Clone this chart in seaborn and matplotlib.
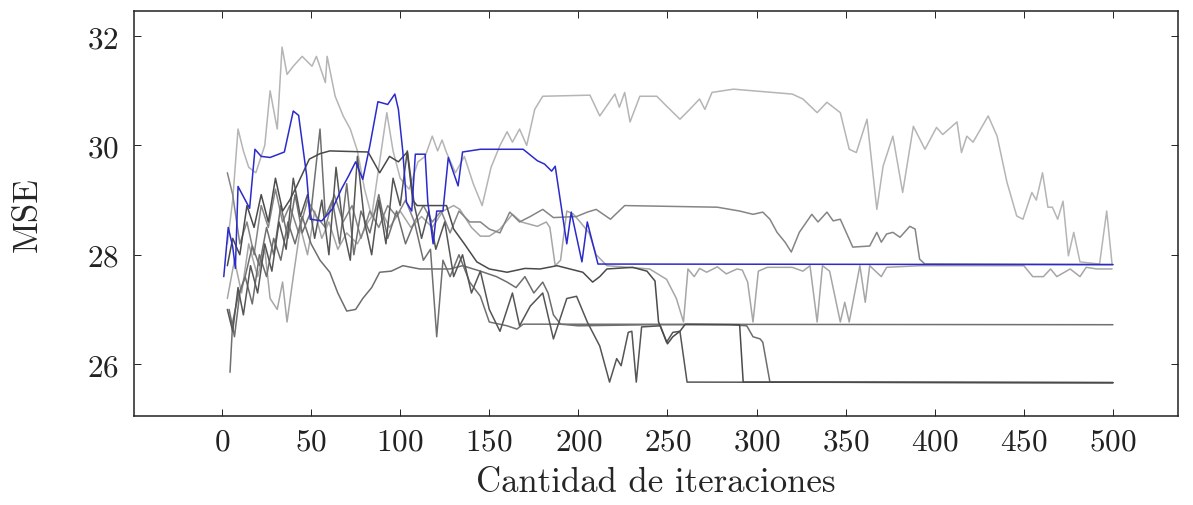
import numpy as np
import matplotlib
matplotlib.use("Agg")
import matplotlib.pyplot as plt
import seaborn as sns

# datos (iteracion, MSE)
azul_x = [1, 3.5, 6, 7.5, 9, 15.5, 18.5, 22, 27, 35, 40, 43, 47.5, 49.5, 56, 62, 67, 71, 75, 79, 83,
          87.5, 93, 97, 99, 101.5, 103.5, 106.5, 108.5, 114, 115.5, 118.5, 120.5, 124, 127, 132.5, 135,
          145, 169, 177, 181, 185, 187, 193.5, 196, 202, 205, 211, 500]
azul_y = [27.6, 28.5, 28.15, 27.75, 29.25, 28.85, 29.93, 29.8, 29.78, 29.88, 30.63, 30.55, 29.45, 28.65,
          28.62, 28.84, 29.2, 29.44, 29.7, 29.38, 30.0, 30.8, 30.75, 30.94, 30.66, 29.88, 28.96, 28.8,
          29.84, 29.84, 28.96, 28.2, 28.8, 28.8, 29.78, 29.26, 29.88, 29.93, 29.93, 29.72, 29.66, 29.53,
          29.62, 28.2, 28.78, 27.87, 28.6, 27.83, 27.82]

b_x = [3, 6, 9, 12, 15, 19, 24, 27, 31, 33.7, 36.5, 40, 45, 50.5, 53, 58, 59, 63.5, 68, 72, 76, 80, 84,
       88, 92.5, 96, 100, 105, 110, 114, 118, 121, 123.5, 126, 131, 136, 141, 146, 151, 156, 160, 163,
       167, 171, 175.5, 180, 206.5, 212, 220.5, 223, 226, 229, 234.5, 244, 249.5, 257, 262.5, 268, 271,
       275, 287, 320, 326, 334, 339.5, 347, 352, 356, 362, 367.5, 371, 376.5, 382, 388, 394.5, 401,
       404.5, 412.5, 415, 418, 421.5, 430, 435, 440.5, 446, 449.5, 454.5, 457, 460.5, 463.5, 466, 469,
       472, 475, 478, 481.5, 492.5, 496.5, 499.5]
b_y = [28.2, 29.0, 30.3, 29.9, 29.6, 29.5, 30.0, 31.0, 30.3, 31.8, 31.3, 31.45, 31.63, 31.45, 31.63,
       31.15, 31.63, 30.9, 30.54, 30.3, 29.9, 29.2, 28.7, 29.6, 30.6, 29.9, 29.4, 29.2, 29.7, 29.8,
       30.17, 29.9, 30.1, 29.87, 29.5, 29.8, 29.3, 28.9, 29.6, 30.0, 30.25, 30.06, 30.3, 30.0, 30.66,
       30.9, 30.92, 30.54, 30.94, 30.7, 30.97, 30.43, 30.9, 30.9, 30.72, 30.48, 30.66, 30.85, 30.66,
       30.97, 31.03, 30.94, 30.85, 30.6, 30.79, 30.6, 29.93, 29.87, 30.48, 28.83, 29.62, 30.17, 29.14,
       30.35, 29.93, 30.33, 30.2, 30.43, 29.87, 30.17, 30.06, 30.54, 30.17, 29.33, 28.71, 28.65, 29.14,
       29.0, 29.5, 28.87, 28.87, 28.65, 28.98, 27.98, 28.41, 27.87, 27.83, 28.8, 27.83]

c_x = [3, 6, 10, 14, 18, 22, 26, 30, 34, 38, 43, 48, 53, 58, 63, 68, 73, 78, 83, 88, 93, 98, 103, 108,
       113, 118, 123, 128, 133, 139, 145, 150, 156, 161.5, 167, 173, 180, 186, 199, 205, 210, 218, 226,
       278, 290.5, 298, 303.5, 307.5, 311.5, 316, 319.5, 324, 331, 334.5, 339.5, 343, 347, 354, 363.5,
       367.5, 370, 373, 376.5, 380.5, 386, 389, 391.5, 394.5, 500]
c_y = [29.5, 29.1, 28.2, 28.6, 28.0, 28.9, 28.5, 29.2, 28.6, 28.9, 28.4, 29.0, 28.7, 28.5, 29.1, 28.6,
       28.9, 28.3, 28.8, 28.5, 28.9, 28.7, 29.0, 28.6, 28.9, 28.6, 28.8, 28.4, 28.8, 28.6, 28.6, 28.47,
       28.4, 28.78, 28.6, 28.7, 28.83, 28.68, 28.7, 28.78, 28.83, 28.65, 28.9, 28.87, 28.8, 28.74, 28.78,
       28.65, 28.41, 28.23, 28.05, 28.41, 28.74, 28.6, 28.78, 28.62, 28.65, 28.14, 28.16, 28.41, 28.23,
       28.38, 28.41, 28.32, 28.52, 28.47, 27.92, 27.83, 27.82]

d_x = [3, 7, 11, 15, 20, 24, 27, 31, 34, 36.5, 40, 44, 48, 52, 56, 60, 65, 70, 76, 82, 88, 94, 100, 106,
       112, 118, 124, 130, 133.5, 140, 145, 150, 156, 163, 168, 177, 182, 184, 187, 190, 193.5, 197, 201,
       206, 210, 216, 240, 249.5, 255, 259, 261.5, 265, 268, 272, 278, 283, 289, 292, 295, 298, 301, 306,
       320, 326, 330, 334, 337, 341, 347, 349.5, 352, 358, 361, 363.5, 370, 373, 392, 450, 455, 461, 465,
       468.5, 476, 481.5, 485, 491, 499.5]
d_y = [27.2, 27.9, 27.3, 28.2, 27.6, 28.1, 27.2, 27.0, 27.5, 26.77, 27.6, 28.5, 28.0, 28.8, 28.3, 28.6,
       28.1, 28.4, 28.2, 28.6, 28.9, 28.5, 28.8, 28.5, 28.7, 28.5, 28.8, 28.9, 28.83, 28.5, 28.34, 28.34,
       28.47, 28.74, 28.6, 28.52, 28.6, 28.5, 27.8, 27.9, 28.8, 28.75, 28.6, 28.4, 28.0, 27.8, 27.74,
       27.55, 27.2, 26.77, 27.74, 27.6, 27.75, 27.68, 27.78, 27.65, 27.74, 27.72, 27.5, 26.77, 27.7,
       27.77, 27.77, 27.7, 27.8, 26.77, 27.8, 27.7, 26.77, 27.13, 26.77, 27.8, 27.13, 27.8, 27.6, 27.77,
       27.8, 27.8, 27.6, 27.6, 27.74, 27.6, 27.74, 27.6, 27.77, 27.74, 27.74]

e_x = [4.5, 6, 9, 13, 17, 21, 25, 29, 33, 37, 41, 45, 50, 55, 58, 62, 66, 70, 74, 78, 83, 88, 93, 98,
       103, 108, 113, 117, 120.5, 124, 128, 133, 139, 145, 150, 160, 165.5, 169, 500]
e_y = [25.85, 26.77, 27.24, 27.6, 28.16, 27.8, 28.5, 28.0, 28.9, 28.3, 29.1, 28.4, 28.8, 30.3, 28.7,
       29.0, 28.2, 29.3, 28.0, 28.8, 28.4, 29.1, 28.3, 28.8, 28.2, 28.6, 27.9, 28.1, 26.5, 27.9, 27.6,
       28.0, 27.5, 27.24, 26.77, 26.7, 26.64, 26.73, 26.72]

g_x = [3, 6, 9, 12, 16, 20, 24, 28, 32, 36, 40, 44, 48, 52, 56, 60, 64, 68, 72, 76, 80, 84, 88, 92, 96,
       100, 104, 108, 112, 116, 120, 125, 130, 135, 140, 145, 150, 156, 163, 167, 173, 180, 186, 193.5,
       199, 205, 212, 217.5, 221.5, 224, 228, 230, 232.5, 235.5, 246, 249.5, 253, 257, 261, 500]
g_y = [27.0, 26.6, 27.4, 26.9, 27.8, 27.3, 28.2, 27.7, 28.6, 28.1, 29.4, 28.7, 29.1, 28.3, 29.0, 28.0,
       29.6, 28.5, 27.9, 29.8, 28.6, 28.0, 29.0, 28.2, 29.4, 28.9, 29.9, 28.9, 28.3, 28.8, 28.1, 28.6,
       27.6, 28.0, 27.3, 27.7, 27.0, 26.6, 27.3, 26.7, 27.06, 27.3, 26.46, 27.2, 27.24, 26.77, 26.33,
       25.67, 26.1, 25.97, 26.58, 26.6, 25.67, 26.68, 26.7, 26.4, 26.58, 26.6, 25.67, 25.66]

h_x = [3, 6, 10, 14, 18, 22, 26, 30, 34, 38, 42, 49, 55, 60.5, 82, 88.5, 94, 99, 104, 107, 109.5, 126,
       130, 136, 143, 150, 160, 170, 178.5, 188, 202.5, 208, 212, 216, 230.5, 238.5, 243, 245, 250, 253,
       257, 260, 290.5, 292.5, 500]
h_y = [27.8, 28.3, 28.0, 28.9, 28.5, 29.1, 28.6, 29.4, 28.8, 29.0, 29.26, 29.75, 29.85, 29.9, 29.88,
       29.5, 29.8, 29.7, 29.88, 29.0, 28.9, 28.9, 28.47, 28.2, 27.87, 27.74, 27.68, 27.75, 27.74, 27.8,
       27.68, 27.5, 27.6, 27.74, 27.77, 27.7, 27.52, 26.77, 26.37, 26.5, 26.6, 26.73, 26.72, 25.67, 25.66]

j_x = [4, 7, 10, 13, 17, 21, 25, 29, 33, 37, 41, 45, 50, 55, 60.5, 65, 70, 75, 79, 84, 88.5, 95, 101.5,
       111, 128, 135, 145, 154, 160, 165, 170, 175, 180, 183, 186, 190, 200, 240, 285, 294.5, 298, 302,
       303.5, 307.5, 500]
j_y = [27.0, 26.5, 27.3, 27.6, 27.1, 28.0, 27.6, 28.3, 27.9, 28.6, 28.2, 28.7, 28.2, 27.9, 27.68, 27.3,
       26.97, 27.0, 27.2, 27.4, 27.68, 27.7, 27.8, 27.74, 27.74, 27.8, 27.7, 27.6, 27.5, 27.4, 27.6, 27.3,
       27.5, 27.3, 26.9, 26.73, 26.7, 26.72, 26.72, 26.7, 26.5, 26.46, 26.4, 25.67, 25.66]

grises = [
    (b_x, b_y, "#b5b5b5"),
    (d_x, d_y, "#a6a6a6"),
    (c_x, c_y, "#858585"),
    (j_x, j_y, "#6e6e6e"),
    (e_x, e_y, "#707070"),
    (g_x, g_y, "#555555"),
    (h_x, h_y, "#4a4a4a"),
]

sns.set_style("ticks")
plt.rcParams["font.family"] = ["cmr10", "DejaVu Serif"]
plt.rcParams["axes.formatter.use_mathtext"] = True

fig = plt.figure(figsize=(11.93, 5.06), dpi=100)
ax = fig.add_axes([0.1123, 0.1759, 0.8751, 0.8004])

for xs, ys, col in grises:
    sns.lineplot(x=xs, y=ys, color=col, lw=1.1, ax=ax, sort=False, estimator=None)
sns.lineplot(x=azul_x, y=azul_y, color="#2b2bcc", lw=1.1, ax=ax, sort=False, estimator=None)

ax.set_xlim(-49.4, 536.5)
ax.set_ylim(25.05, 32.46)
ax.set_xticks([0, 50, 100, 150, 200, 250, 300, 350, 400, 450, 500])
ax.set_yticks([26, 28, 30, 32])

ax.tick_params(direction="in", length=5, width=0.7, top=True, right=True,
               labelsize=22.5, colors="#222222")
ax.tick_params(axis="x", pad=8)
ax.tick_params(axis="y", pad=11)
for s in ax.spines.values():
    s.set_linewidth(1.1)
    s.set_color("#222222")

ax.set_xlabel("Cantidad de iteraciones", fontsize=25, labelpad=8)
ax.set_ylabel("MSE", fontsize=25, labelpad=31)

fig.savefig("out.png", dpi=100)
